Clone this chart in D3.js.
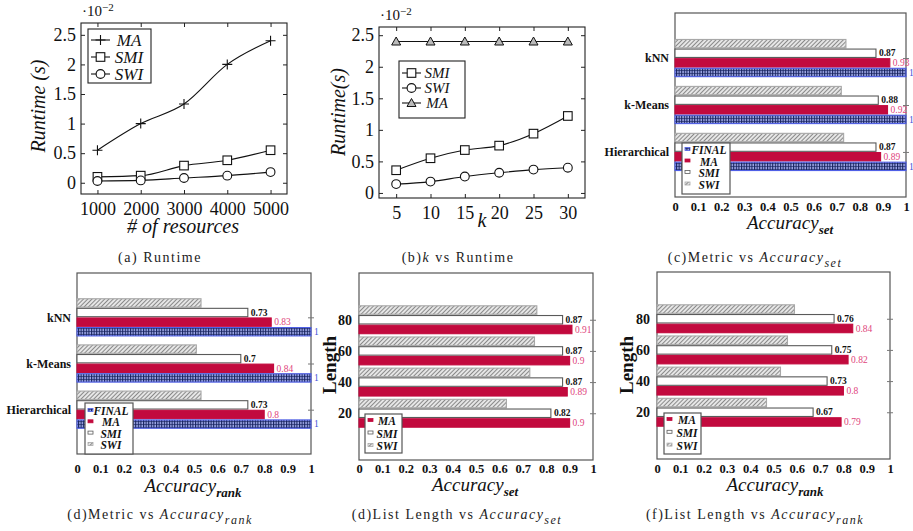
<!DOCTYPE html>
<html>
<head>
<meta charset="utf-8">
<script src="https://cdn.jsdelivr.net/npm/d3@7"></script>
<style>
body { margin: 0; background: #fff; }
text { font-family: "Liberation Serif", "DejaVu Serif", serif; }
</style>
</head>
<body>
<div class="fig"></div>
<script>
// runtime vs number of resources (values x 10^-2 s)
const resources = [1000, 2000, 3000, 4000, 5000]
const rtMA = [0.55, 1.0, 1.33, 2.0, 2.4]
const rtSMI = [0.10, 0.12, 0.29, 0.38, 0.55]
const rtSWI = [0.03, 0.04, 0.08, 0.12, 0.18]
const runtimeTicks = [0, 0.5, 1, 1.5, 2, 2.5]

// runtime vs k
const kVals = [5, 10, 15, 20, 25, 30]
const kSMI = [0.36, 0.55, 0.68, 0.75, 0.94, 1.22]
const kSWI = [0.14, 0.18, 0.26, 0.32, 0.37, 0.40]
const kMA = [2.4, 2.4, 2.4, 2.4, 2.4, 2.4]

// metric vs accuracy
const metrics = ['kNN', 'k-Means', 'Hierarchical']
const setSWI = [0.74, 0.72, 0.73]
const setSMI = [0.87, 0.88, 0.87]
const setMA = [0.93, 0.92, 0.89]
const setFINAL = [1, 1, 1]
const rankSWI = [0.53, 0.51, 0.53]
const rankSMI = [0.73, 0.7, 0.73]
const rankMA = [0.83, 0.84, 0.8]
const rankFINAL = [1, 1, 1]

// list length vs accuracy
const lengths = [80, 60, 40, 20]
const lenSetSWI = [0.76, 0.75, 0.73, 0.63]
const lenSetSMI = [0.87, 0.87, 0.87, 0.82]
const lenSetMA = [0.91, 0.9, 0.89, 0.9]
const lenRankSWI = [0.59, 0.56, 0.53, 0.47]
const lenRankSMI = [0.76, 0.75, 0.73, 0.67]
const lenRankMA = [0.84, 0.82, 0.8, 0.79]

const accTicks = [0, 0.1, 0.2, 0.3, 0.4, 0.5, 0.6, 0.7, 0.8, 0.9, 1]
const lengthTicks = [20, 40, 60, 80]

const svg = d3.select('.fig').append('svg')
	.attr('width', 913)
	.attr('height', 531)

const defs = svg.append('defs')

// gray diagonal hatch for SWI
const hatch = defs.append('pattern')
	.attr('id', 'hatch')
	.attr('patternUnits', 'userSpaceOnUse')
	.attr('width', 3).attr('height', 3)
	.attr('patternTransform', 'rotate(45)')
hatch.append('rect').attr('width', 3).attr('height', 3).attr('fill', '#e6e6e6')
hatch.append('line').attr('x1', 0).attr('y1', 0).attr('x2', 0).attr('y2', 3)
	.attr('stroke', '#6a6a6a').attr('stroke-width', 1.5)

// blue grid for FINAL
const grid = defs.append('pattern')
	.attr('id', 'grid')
	.attr('patternUnits', 'userSpaceOnUse')
	.attr('width', 2.6).attr('height', 3)
grid.append('rect').attr('width', 2.6).attr('height', 3).attr('fill', '#9ea8e6')
grid.append('line').attr('x1', 0.5).attr('y1', 0).attr('x2', 0.5).attr('y2', 3)
	.attr('stroke', '#16225e').attr('stroke-width', 1.2)
grid.append('line').attr('x1', 0).attr('y1', 1.5).attr('x2', 2.6).attr('y2', 1.5)
	.attr('stroke', '#16225e').attr('stroke-width', 0.6)

const barStyle = {
	SWI: { fill: 'url(#hatch)', stroke: '#a8a8a8', label: null },
	SMI: { fill: '#fff', stroke: '#5a5a5a', label: '#111' },
	MA: { fill: '#c20a3e', stroke: '#c20a3e', label: '#e0457c' },
	FINAL: { fill: 'url(#grid)', stroke: '#4f5fe6', label: '#4050d8' }
}

// strip d3's default axis font so the page font applies
function cleanAxis(g, size, weight) {
	g.attr('font-family', null).attr('font-size', null)
	g.select('.domain').remove()
	g.selectAll('line').attr('stroke', '#222')
	g.selectAll('text')
		.attr('font-size', size)
		.attr('font-weight', weight || 'normal')
		.attr('fill', '#111')
}

function caption(cx, y, parts) {
	const t = svg.append('text')
		.attr('x', cx).attr('y', y)
		.attr('text-anchor', 'middle')
		.attr('font-size', 14)
		.attr('letter-spacing', 1.5)
		.attr('fill', '#222')
	parts.forEach(p => {
		const s = t.append('tspan').text(p.t)
		if (p.it) s.attr('font-style', 'italic')
		if (p.sub) s.attr('font-size', 12).attr('dy', 5)
	})
}

function accLabel(cx, y, sub) {
	const t = svg.append('text')
		.attr('x', cx).attr('y', y)
		.attr('text-anchor', 'middle')
		.attr('fill', '#111')
	t.append('tspan').text('Accuracy').attr('font-size', 19).attr('font-style', 'italic')
	t.append('tspan').text(sub).attr('font-size', 13).attr('font-style', 'italic')
		.attr('font-weight', 'bold').attr('dy', 5)
}

function marker(g, type, cx, cy) {
	if (type === 'plus') {
		g.append('path').attr('d', `M${cx - 5},${cy}H${cx + 5}M${cx},${cy - 5}V${cy + 5}`)
			.attr('stroke', '#111').attr('stroke-width', 1.1)
	} else if (type === 'square') {
		g.append('rect').attr('x', cx - 4.3).attr('y', cy - 4.3).attr('width', 8.6).attr('height', 8.6)
			.attr('fill', '#fff').attr('stroke', '#111').attr('stroke-width', 1.1)
	} else if (type === 'circle') {
		g.append('circle').attr('cx', cx).attr('cy', cy).attr('r', 4.4)
			.attr('fill', '#fff').attr('stroke', '#111').attr('stroke-width', 1.1)
	} else {
		g.append('path').attr('d', `M${cx},${cy - 4.5}L${cx + 4.5},${cy + 3.5}L${cx - 4.5},${cy + 3.5}Z`)
			.attr('fill', '#bbb').attr('stroke', '#111').attr('stroke-width', 1)
	}
}

function lineChart(o) {
	const g = svg.append('g')
	const x = d3.scaleLinear().domain(o.xDomain).range([o.x0, o.x1])
	const y = d3.scaleLinear().domain(o.yDomain).range([o.y1, o.y0])

	g.append('g').attr('transform', `translate(${o.x0},0)`)
		.call(d3.axisLeft(y).tickValues(runtimeTicks).tickSize(-4).tickPadding(5).tickFormat(d => d))
		.call(a => cleanAxis(a, 18))
	g.append('g').attr('transform', `translate(${o.x1},0)`)
		.call(d3.axisRight(y).tickValues(runtimeTicks).tickSize(-4).tickFormat(''))
		.call(a => cleanAxis(a, 18))
	g.append('g').attr('transform', `translate(0,${o.y1})`)
		.call(d3.axisBottom(x).tickValues(o.xTicks).tickSize(-4).tickPadding(8).tickFormat(d => d))
		.call(a => cleanAxis(a, 18))
	g.append('g').attr('transform', `translate(0,${o.y0})`)
		.call(d3.axisTop(x).tickValues(o.xTicks).tickSize(-4).tickFormat(''))
		.call(a => cleanAxis(a, 18))

	g.append('rect')
		.attr('x', o.x0).attr('y', o.y0)
		.attr('width', o.x1 - o.x0).attr('height', o.y1 - o.y0)
		.attr('fill', 'none').attr('stroke', '#222').attr('stroke-width', 1.1)

	const line = d3.line().curve(d3.curveMonotoneX)
	o.series.forEach(s => {
		const pts = o.xValues.map((v, i) => [x(v), y(s.values[i])])
		g.append('path').attr('d', line(pts))
			.attr('fill', 'none').attr('stroke', '#111').attr('stroke-width', 1.1)
		pts.forEach(p => marker(g, s.marker, p[0], p[1]))
	})

	// scale factor
	const sf = g.append('text').attr('x', o.x0 + 1).attr('y', o.y0 - 7)
		.attr('font-size', 15).attr('fill', '#111')
	sf.append('tspan').text('·10')
	sf.append('tspan').text('−2').attr('font-size', 11).attr('dy', -5)

	// legend
	const lg = g.append('g')
	const L = o.legend
	lg.append('rect')
		.attr('x', L.x).attr('y', L.y)
		.attr('width', L.w).attr('height', L.h)
		.attr('fill', '#fff').attr('stroke', '#222').attr('stroke-width', 1.1)
	L.order.forEach((name, i) => {
		const s = o.series.find(d => d.name === name)
		const ly = L.y + L.row0 + i * L.step
		const lx = L.x + 3
		lg.append('line').attr('x1', lx).attr('x2', lx + 19).attr('y1', ly).attr('y2', ly)
			.attr('stroke', '#111').attr('stroke-width', 1.1)
		marker(lg, s.marker, lx + 9.5, ly)
		lg.append('text').text(name)
			.attr('x', L.tx).attr('y', ly + L.fs * 0.33)
			.attr('text-anchor', 'middle')
			.attr('font-size', L.fs).attr('font-style', 'italic').attr('fill', '#111')
	})

	g.append('text').text(o.yLabel)
		.attr('transform', `translate(${o.yLabelPos[0]},${o.yLabelPos[1]}) rotate(-90)`)
		.attr('text-anchor', 'middle')
		.attr('font-size', 20).attr('font-style', 'italic').attr('fill', '#111')
	g.append('text').text(o.xLabel)
		.attr('x', o.xLabelPos[0]).attr('y', o.xLabelPos[1])
		.attr('text-anchor', 'middle')
		.attr('font-size', 20).attr('font-style', 'italic').attr('fill', '#111')
}

function barChart(o) {
	const g = svg.append('g')
	const x = d3.scaleLinear().domain([0, 1]).range([o.x0, o.x1])
	const y = o.cats
		? d3.scalePoint().domain(o.cats).range([o.y0, o.y1]).padding(0.96)
		: d3.scaleLinear().domain([-10, 110]).range([o.y1, o.y0])
	const groups = o.cats || lengths
	const names = o.series.map(s => s.name)
	const inner = d3.scaleBand().domain(names)
		.range([-names.length * 4.65, names.length * 4.65])
		.paddingInner(0.13)

	g.append('rect')
		.attr('x', o.x0).attr('y', o.y0)
		.attr('width', o.x1 - o.x0).attr('height', o.y1 - o.y0)
		.attr('fill', '#fff').attr('stroke', '#555').attr('stroke-width', 1.2)

	g.append('g').attr('transform', `translate(0,${o.y1})`)
		.call(d3.axisBottom(x).tickValues(accTicks).tickSize(0).tickPadding(o.tickPad).tickFormat(d => +d.toFixed(1)))
		.call(a => cleanAxis(a, 12.5, 'bold'))

	const yTicks = o.cats || lengthTicks
	g.append('g').attr('transform', `translate(${o.x0},0)`)
		.call(d3.axisLeft(y).tickValues(yTicks).tickSize(0).tickPadding(o.cats ? 6 : 7).tickFormat(d => d))
		.call(a => cleanAxis(a, o.cats ? 12 : 14, 'bold'))
	g.append('g').attr('transform', `translate(${o.x1},0)`)
		.call(d3.axisRight(y).tickValues(yTicks).tickSize(3).tickFormat(''))
		.call(a => cleanAxis(a, 12))
		.selectAll('line').attr('x1', -3).attr('stroke', '#777')

	o.series.forEach(s => {
		const st = barStyle[s.name]
		groups.forEach((c, i) => {
			const v = s.values[i]
			const by = y(c) + inner(s.name)
			g.append('rect')
				.attr('x', x(0)).attr('y', by)
				.attr('width', x(v) - x(0)).attr('height', inner.bandwidth())
				.attr('fill', st.fill).attr('stroke', st.stroke).attr('stroke-width', 1.1)
			if (st.label) {
				g.append('text').text(String(v))
					.attr('x', x(v) + 3).attr('y', by + inner.bandwidth() / 2 + 3.2)
					.attr('font-size', 9.5)
					.attr('font-weight', s.name === 'SMI' ? 'bold' : 'normal')
					.attr('fill', st.label)
			}
		})
	})

	// legend
	const lg = g.append('g')
	const L = o.legend
	lg.append('rect')
		.attr('x', L.x).attr('y', L.y).attr('width', L.w).attr('height', L.h)
		.attr('fill', '#fff').attr('stroke', '#555').attr('stroke-width', 1.2)
	L.order.forEach((name, i) => {
		const ly = L.y + L.row0 + i * L.step
		const st = barStyle[name]
		lg.append('rect')
			.attr('x', L.x + 3).attr('y', ly - 2.5)
			.attr('width', 5).attr('height', 3)
			.attr('fill', st.fill).attr('stroke', st.stroke).attr('stroke-width', 0.8)
		lg.append('text').text(name)
			.attr('x', L.tx).attr('y', ly + 4)
			.attr('text-anchor', 'middle')
			.attr('font-size', 11.5).attr('font-style', 'italic').attr('font-weight', 'bold')
			.attr('fill', '#111')
	})

	if (o.yLabel) {
		g.append('text').text(o.yLabel)
			.attr('transform', `translate(${o.yLabelPos[0]},${o.yLabelPos[1]}) rotate(-90)`)
			.attr('text-anchor', 'middle')
			.attr('font-size', 19).attr('font-weight', 'bold').attr('fill', '#111')
	}
}

// (a) runtime vs resources
lineChart({
	x0: 81, x1: 287, y0: 23, y1: 194,
	xDomain: [620, 5380], yDomain: [-0.19, 2.7],
	xValues: resources, xTicks: resources,
	series: [
		{ name: 'MA', values: rtMA, marker: 'plus' },
		{ name: 'SMI', values: rtSMI, marker: 'square' },
		{ name: 'SWI', values: rtSWI, marker: 'circle' }
	],
	legend: { x: 88, y: 29, w: 63, h: 54, row0: 11, step: 17, tx: 129, fs: 17, order: ['MA', 'SMI', 'SWI'] },
	yLabel: 'Runtime (s)', yLabelPos: [45, 106],
	xLabel: '# of resources', xLabelPos: [183, 233]
})

// (b) runtime vs k
lineChart({
	x0: 379, x1: 585, y0: 27, y1: 198,
	xDomain: [2.5, 32.5], yDomain: [-0.08, 2.63],
	xValues: kVals, xTicks: kVals,
	series: [
		{ name: 'SMI', values: kSMI, marker: 'square' },
		{ name: 'SWI', values: kSWI, marker: 'circle' },
		{ name: 'MA', values: kMA, marker: 'triangle' }
	],
	legend: { x: 399, y: 61, w: 66, h: 57, row0: 12, step: 15, tx: 437, fs: 15, order: ['SMI', 'SWI', 'MA'] },
	yLabel: 'Runtime(s)', yLabelPos: [345, 112],
	xLabel: 'k', xLabelPos: [482, 227]
})

// (c) metric vs accuracy set
barChart({
	x0: 675, x1: 906, y0: 13, y1: 197, tickPad: 5,
	cats: metrics,
	series: [
		{ name: 'SWI', values: setSWI },
		{ name: 'SMI', values: setSMI },
		{ name: 'MA', values: setMA },
		{ name: 'FINAL', values: setFINAL }
	],
	legend: { x: 682, y: 143, w: 48, h: 51, row0: 7, step: 11.5, tx: 709, order: ['FINAL', 'MA', 'SMI', 'SWI'] }
})

// (d) metric vs accuracy rank
barChart({
	x0: 77, x1: 311, y0: 273, y1: 454, tickPad: 10,
	cats: metrics,
	series: [
		{ name: 'SWI', values: rankSWI },
		{ name: 'SMI', values: rankSMI },
		{ name: 'MA', values: rankMA },
		{ name: 'FINAL', values: rankFINAL }
	],
	legend: { x: 85, y: 403, w: 48, h: 51, row0: 8, step: 11.3, tx: 111, order: ['FINAL', 'MA', 'SMI', 'SWI'] }
})

// (e) list length vs accuracy set
barChart({
	x0: 359, x1: 593, y0: 273, y1: 460, tickPad: 4,
	series: [
		{ name: 'SWI', values: lenSetSWI },
		{ name: 'SMI', values: lenSetSMI },
		{ name: 'MA', values: lenSetMA }
	],
	legend: { x: 365, y: 414, w: 37, h: 39, row0: 7, step: 12.5, tx: 387, order: ['MA', 'SMI', 'SWI'] },
	yLabel: 'Length', yLabelPos: [336, 365]
})

// (f) list length vs accuracy rank
barChart({
	x0: 657, x1: 890, y0: 272, y1: 459, tickPad: 5,
	series: [
		{ name: 'SWI', values: lenRankSWI },
		{ name: 'SMI', values: lenRankSMI },
		{ name: 'MA', values: lenRankMA }
	],
	legend: { x: 664, y: 413, w: 37, h: 41, row0: 7, step: 12.8, tx: 687, order: ['MA', 'SMI', 'SWI'] },
	yLabel: 'Length', yLabelPos: [633, 365]
})

accLabel(790, 229, 'set')
accLabel(193, 492, 'rank')
accLabel(475, 491, 'set')
accLabel(775, 491, 'rank')

caption(160, 262, [{ t: '(a) Runtime' }])
caption(458, 262, [{ t: '(b)' }, { t: 'k', it: true }, { t: ' vs Runtime' }])
caption(755, 262, [{ t: '(c)Metric vs ' }, { t: 'Accuracy', it: true }, { t: 'set', it: true, sub: true }])
caption(160, 519, [{ t: '(d)Metric vs ' }, { t: 'Accuracy', it: true }, { t: 'rank', it: true, sub: true }])
caption(457, 519, [{ t: '(d)List Length vs ' }, { t: 'Accuracy', it: true }, { t: 'set', it: true, sub: true }])
caption(755, 519, [{ t: '(f)List Length vs ' }, { t: 'Accuracy', it: true }, { t: 'rank', it: true, sub: true }])
</script>
</body>
</html>
